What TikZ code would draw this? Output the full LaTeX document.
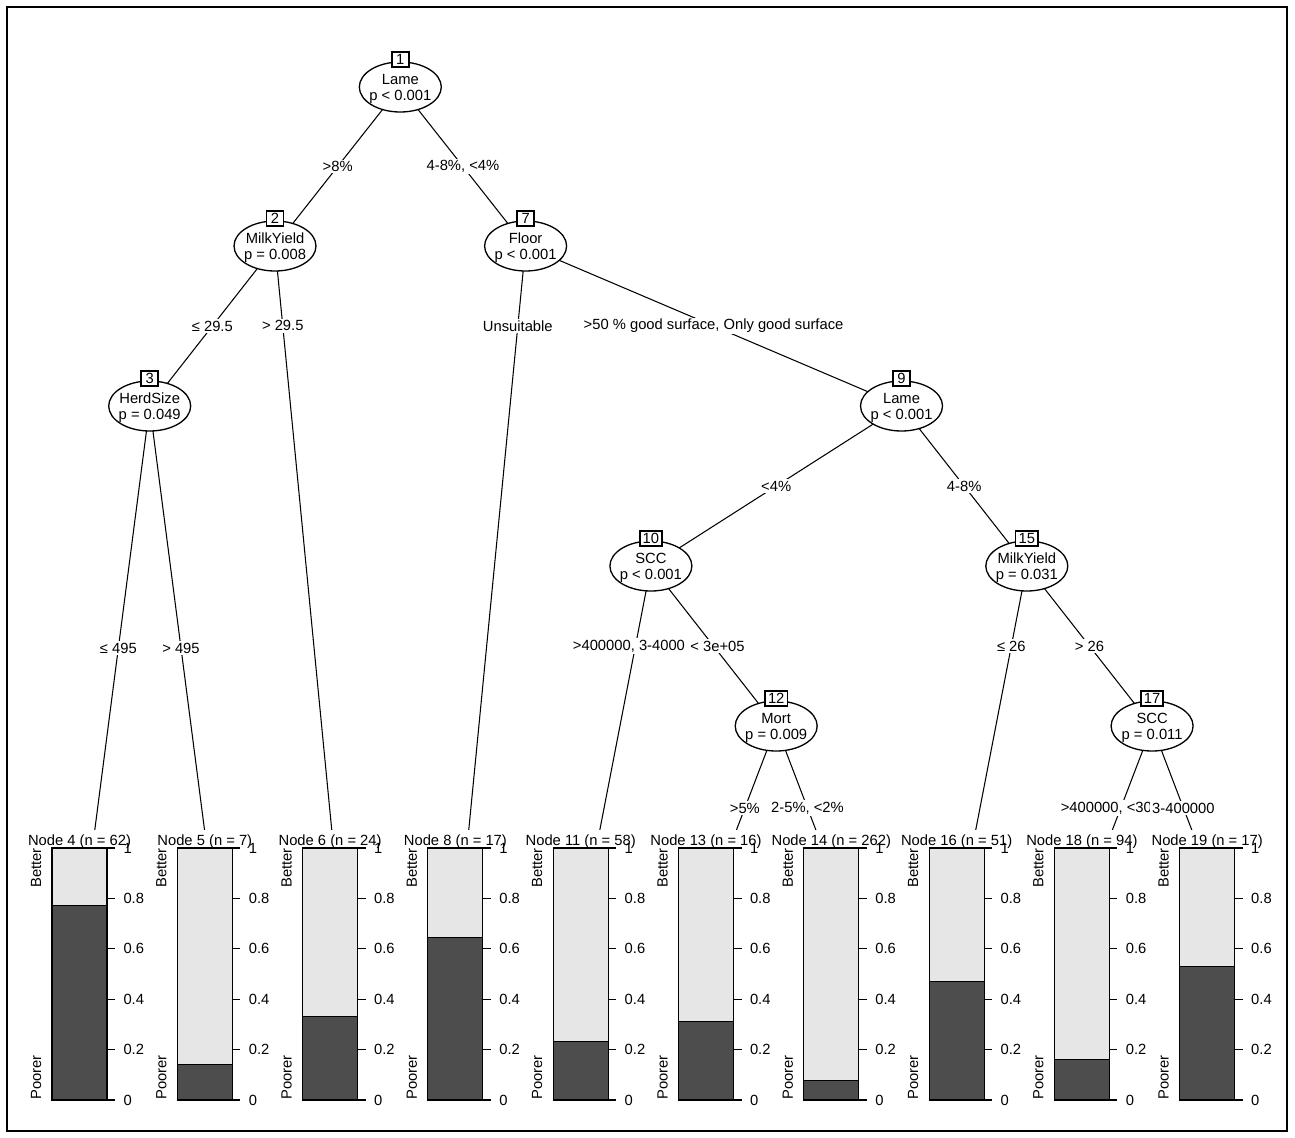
\documentclass[tikz,border=0pt]{standalone}
\usepackage{fontspec}
\setmainfont{Liberation Sans}
\usetikzlibrary{shapes.geometric, backgrounds}
\definecolor{barlight}{HTML}{E6E6E6}
\definecolor{bardark}{HTML}{4D4D4D}

\begin{document}
\begin{tikzpicture}[x=0.02cm, y=-0.02cm,
    every node/.style={font=\fontsize{8.4}{9.2}\selectfont},
    split/.style={ellipse, draw, fill=white, line width=0.75pt, minimum width=1.64cm, minimum height=1.0cm, inner sep=0pt},
    splittext/.style={align=center, inner sep=0pt, yshift=-0.035cm},
    idbox/.style={draw, fill=white, line width=1pt, minimum width=0.34cm, minimum height=0.3cm, inner xsep=0.06cm, inner ysep=0pt},
    elab/.style={fill=white, inner xsep=0.08cm, inner ysep=0.03cm},
    conn/.style={line width=0.6pt},
    ttitle/.style={anchor=base, inner sep=0pt},
    tick/.style={anchor=west, inner sep=0pt, xshift=0.16cm},
    ylab/.style={rotate=90, inner sep=0pt}]
  \useasboundingbox (0,0) rectangle (1295,1137);
  \draw[line width=0.9pt] (7,7) rectangle (1287,1131);

  % inner nodes
  \foreach \id/\x/\y/\var/\pv in {1/400.3/87/Lame/p < 0.001, 2/275/246/MilkYield/p = 0.008,
      3/149.7/406/HerdSize/p = 0.049, 7/525.6/246/Floor/p < 0.001, 9/901.5/406/Lame/p < 0.001,
      10/650.9/566/SCC/p < 0.001, 12/776.2/726/Mort/p = 0.009, 15/1026.8/566/MilkYield/p = 0.031,
      17/1152.1/726/SCC/p = 0.011}{
    \node[split] (n\id) at (\x,\y) {};
    \node[splittext] (v\id) at (n\id) {\var\\\pv};
    \node[idbox] (b\id) at ([yshift=0.04cm]n\id.north) {\id};
  }

  % terminal ends
  \foreach \id/\x in {4/87, 5/212.3, 6/337.6, 8/462.9, 11/588.2, 13/713.5, 14/838.8, 16/964.1, 18/1089.4, 19/1214.7}
    \coordinate (t\id) at (\x,890);

  \begin{scope}[on background layer]
  \path[conn]
    (n1.center) edge node[elab] {>8\%} (n2.center)
    (n1.center) edge node[elab] {4-8\%, <4\%} (n7.center)
    (n2.center) edge node[elab] {≤ 29.5} (n3.center)
    (n2.center) edge node[elab, pos=0.124] {> 29.5} (t6)
    (n3.center) edge node[elab] {≤ 495} (t4)
    (n3.center) edge node[elab] {> 495} (t5)
    (n7.center) edge node[elab, pos=0.124] {Unsuitable} (t8)
    (n7.center) edge node[elab] {>50 \% good surface, Only good surface} (n9.center)
    (n9.center) edge node[elab] {<4\%} (n10.center)
    (n9.center) edge node[elab] {4-8\%} (n15.center)
    (n10.center) edge node[elab, pos=0.247, anchor=west, xshift=-1.28cm, inner xsep=0.02cm] {>400000, 3-4000} (t11)
    (n10.center) edge node[elab, xshift=0.08cm] {< 3e+05} (n12.center)
    (n12.center) edge node[elab] {>5\%} (t13)
    (n12.center) edge node[elab] {2-5\%, <2\%} (t14)
    (n15.center) edge node[elab, pos=0.247] {≤ 26} (t16)
    (n15.center) edge node[elab] {> 26} (n17.center)
    (n17.center) edge node[elab, anchor=west, xshift=-1.23cm, inner xsep=0.02cm] {>400000, <30} (t18)
    (n17.center) edge node[elab, inner xsep=0.04cm] {3-400000} (t19);
  \end{scope}

  % terminal panels
  \foreach \id/\x/\n/\f in {4/87/62/0.774, 5/212.3/7/0.143, 6/337.6/24/0.333, 8/462.9/17/0.647,
      11/588.2/58/0.234, 13/713.5/16/0.3125, 14/838.8/262/0.080, 16/964.1/51/0.471,
      18/1089.4/94/0.160, 19/1214.7/17/0.529}{
    \fill[white] ({\x-62},830) rectangle ({\x+62},1110);
    \node[ttitle] (h\id) at ({\x-7.5},845) {Node \id\ (n = \n)};
    \fill[bardark] ({\x-35},1100) rectangle ({\x+20},{1100-252*\f});
    \fill[barlight] ({\x-35},{1100-252*\f}) rectangle ({\x+20},848);
    \draw[conn] ({\x-35},848) rectangle ({\x+20},1100);
    \draw[line width=0.4pt] ({\x-35},{1100-252*\f}) -- ({\x+20},{1100-252*\f});
    \foreach \v [count=\i] in {0,0.2,0.4,0.6,0.8,1}
      \draw[conn] ({\x+20},{1100-252*\v}) -- ++(8,0) node[tick] (k\id-\i) {\v};
    \node[ylab, anchor=east] (u\id) at ({\x-51},848) {Better};
    \node[ylab, anchor=west] (d\id) at ({\x-51},1100) {Poorer};
  }
\end{tikzpicture}
\end{document}
